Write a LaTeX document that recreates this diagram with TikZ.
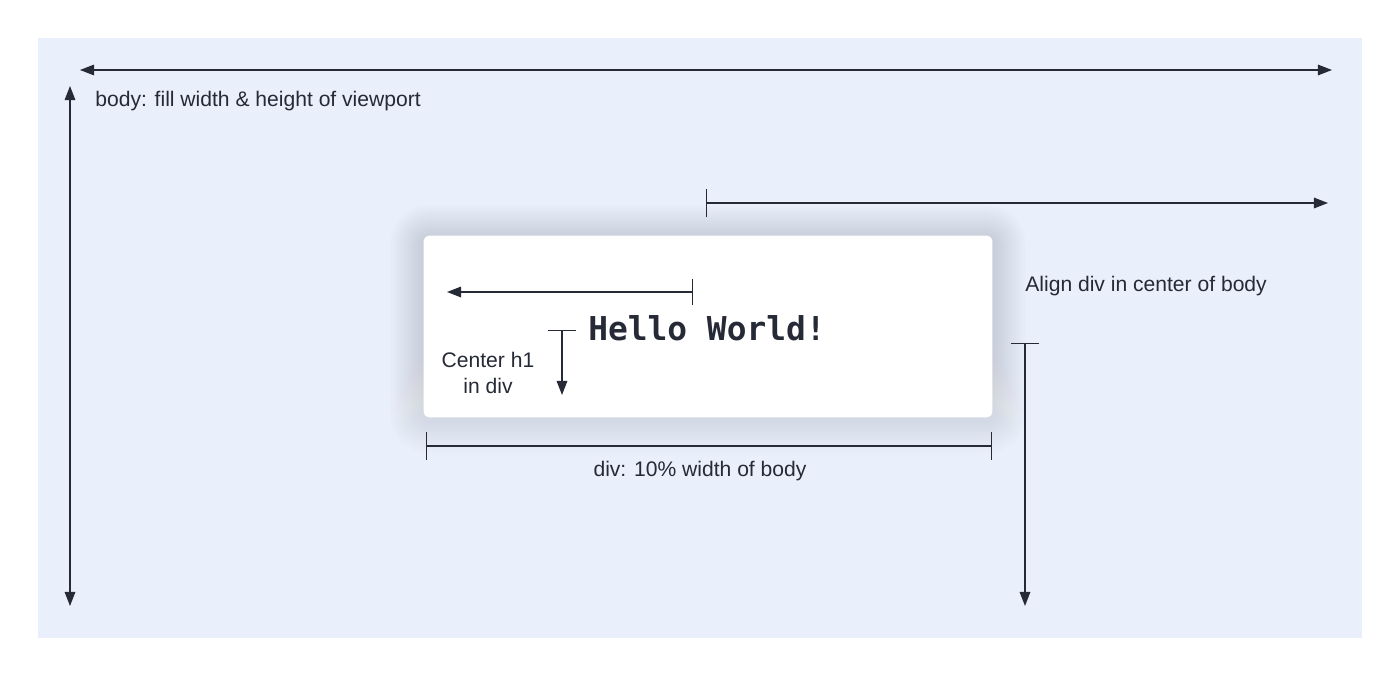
\documentclass[tikz,border=0pt]{standalone}
\usepackage{fontspec}
\setmainfont{Liberation Sans}
\newfontfamily\hellofont{DejaVu Sans Mono}
\usepackage{xcolor}
\usetikzlibrary{arrows.meta,positioning,calc}
\definecolor{bodybg}{HTML}{E9EFFB}
\definecolor{ink}{HTML}{262A36}
\definecolor{shade}{HTML}{7D8CA8}

\begin{document}
\begin{tikzpicture}[x=0.02cm,y=-0.02cm,
    dim/.style={ink,line width=0.8pt},
    lbl/.style={ink,font=\fontsize{12}{14.5}\selectfont,inner sep=0pt}]
  \useasboundingbox (0,0) rectangle (1400,676);
  % body
  \fill[bodybg] (38,38) rectangle (1362,638);
  % div
  \node[minimum width=568*0.02cm,minimum height=181*0.02cm,inner sep=0pt] (div) at (708,326.5) {};
  \foreach \s in {3,6,...,33}
    \fill[shade,opacity=0.009,rounded corners=3pt+\s*0.02cm]
      ($(div.south west)+(-\s,\s+3)$) rectangle ($(div.north east)+(\s,-\s+3)$);
  \fill[white,rounded corners=3pt] (div.south west) rectangle (div.north east);
  % body arrows
  \coordinate (bw1) at (80,70); \coordinate (bw2) at (1332,70);
  \coordinate (bh1) at (70,86); \coordinate (bh2) at (70,606);
  \draw[dim,{Triangle[length=8pt,width=6pt]}-{Triangle[length=8pt,width=6pt]}] (bw1) -- (bw2);
  \draw[dim,{Triangle[length=8pt,width=6pt]}-{Triangle[length=8pt,width=6pt]}] (bh1) -- (bh2);
  \node[lbl,anchor=west] (bodylbl) at (95,101) {body: fill width \& height of viewport};
  % align div
  \coordinate (ah1) at (706,203); \coordinate (ah2) at (1328,203);
  \coordinate (av1) at (1025,343); \coordinate (av2) at (1025,606);
  \draw[dim,{Bar[width=16pt]}-{Triangle[length=8pt,width=6pt]}] (ah1) -- (ah2);
  \draw[dim,{Bar[width=16pt]}-{Triangle[length=8pt,width=6pt]}] (av1) -- (av2);
  \node[lbl,anchor=west] (alignlbl) at (1025,286) {Align div in center of body};
  % h1
  \node[ink,font=\hellofont\bfseries\fontsize{18.7}{20}\selectfont,inner sep=0pt] (hello) at (707,328) {Hello World!};
  \coordinate (ch1) at (693,292); \coordinate (ch2) at (447,292);
  \coordinate (cv1) at (562,330); \coordinate (cv2) at (562,395);
  \draw[dim,{Bar[width=15pt]}-{Triangle[length=8pt,width=6pt]}] (ch1) -- (ch2);
  \draw[dim,{Bar[width=16pt]}-{Triangle[length=8pt,width=6pt]}] (cv1) -- (cv2);
  \node[lbl,align=center,font=\fontsize{12}{15}\selectfont] (centerlbl) at (488,373) {Center h1\\in div};
  % div width
  \coordinate (dw1) at (426,446); \coordinate (dw2) at (992,446);
  \draw[dim,{Bar[width=16pt]}-{Bar[width=16pt]}] (dw1) -- (dw2);
  \node[lbl] (widthlbl) at (700,471) {div: 10\% width of body};
\end{tikzpicture}
\end{document}
